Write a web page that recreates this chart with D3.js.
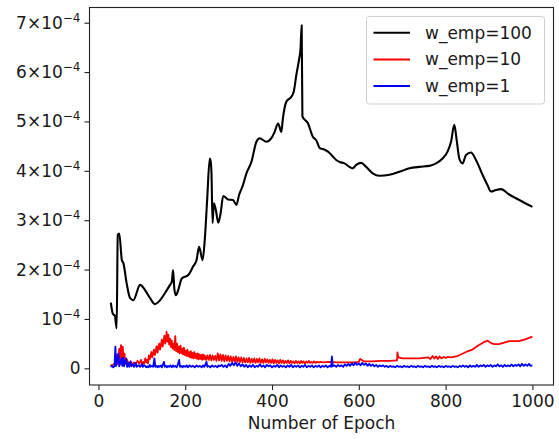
<!DOCTYPE html>
<html>
<head>
<meta charset="utf-8">
<script src="https://cdn.jsdelivr.net/npm/d3@7/dist/d3.min.js"></script>
<style>
  html, body { margin: 0; padding: 0; background: #fff; }
  svg { display: block; }
  text { font-family: "DejaVu Sans", sans-serif; fill: #1a1a1a; }
</style>
</head>
<body>
<svg id="chart" width="559" height="439"></svg>
<script>
// Loss per epoch for three empirical-loss weights, values in units of 1e-4.
const seriesNames = ["w_emp=100", "w_emp=10", "w_emp=1"];
const seriesColors = ["#000000", "#ff0000", "#0000ff"];

const wEmp100 = [[28.5,1.33],[33,1.11],[38,1.06],[42,0.81],[44.5,2.70],[48,2.73],[54,2.19],[57.5,2.13],[65,1.72],[73,1.42],[80.5,1.38],[96,1.69],[107,1.59],[119,1.42],[130,1.30],[142,1.38],[153,1.52],[165,1.69],[169,1.75],[172,1.99],[175,1.60],[178.5,1.48],[184,1.59],[192,1.82],[207,1.89],[218,2.06],[226,2.19],[232,2.46],[240,2.19],[245,2.60],[250.5,3.41],[256.5,4.25],[258.5,4.20],[260.5,3.95],[263,2.94],[266,3.34],[270.5,3.21],[276,2.95],[281.5,3.14],[287.5,3.49],[299,3.42],[310,3.41],[318,3.31],[324,3.51],[333,3.71],[341,3.95],[352.5,4.18],[364,4.59],[371.5,4.66],[387,4.59],[398.5,4.66],[406,4.79],[414,4.96],[421.5,4.79],[425,5.06],[433,5.40],[444.5,5.50],[450,5.60],[456,5.94],[462,6.24],[465.5,6.45],[468.3,6.95],[470,5.10],[483,4.96],[494,4.69],[502,4.62],[510,4.46],[517,4.44],[525,4.41],[529,4.39],[540,4.29],[548,4.22],[556,4.18],[567,4.15],[578.5,4.08],[586,4.05],[594,4.12],[605.5,4.16],[617,4.08],[632,3.95],[647.5,3.90],[670.5,3.92],[693.5,3.98],[716.5,4.05],[739.5,4.08],[762.5,4.10],[778,4.15],[793,4.25],[804.5,4.39],[812.5,4.59],[820,4.93],[825.5,4.62],[831.5,4.25],[839,4.15],[847,4.32],[858.5,4.37],[870,4.22],[885,3.92],[896.5,3.71],[904.5,3.58],[916,3.61],[927.5,3.63],[946.5,3.52],[969.5,3.41],[1000,3.27]];

const wEmp10 = [[28,0.07],[32,0.06],[36,0.09],[40,0.07],[43,0.28],[45,0.08],[48,0.40],[50,0.10],[52,0.47],[54,0.14],[56,0.44],[58,0.12],[60,0.30],[62,0.09],[66,0.17],[70,0.08],[74,0.14],[78,0.07],[82,0.12],[86,0.08],[90,0.15],[94,0.09],[98,0.17],[101,0.08],[103,0.13],[105,0.09],[108,0.20],[110,0.12],[112,0.17],[114,0.10],[116,0.26],[118,0.18],[120,0.24],[122,0.33],[124,0.22],[126,0.30],[128,0.38],[130,0.27],[132,0.35],[134,0.45],[136,0.32],[138,0.42],[140,0.50],[142,0.38],[144,0.47],[146,0.58],[148,0.44],[150,0.55],[152,0.66],[154,0.50],[156,0.62],[157,0.74],[159,0.54],[161,0.68],[163,0.48],[165,0.60],[167,0.43],[169,0.56],[171,0.40],[173,0.50],[175,0.37],[177,0.65],[179,0.35],[181,0.50],[183,0.33],[185,0.44],[187,0.30],[189,0.46],[191,0.31],[193,0.40],[195,0.28],[197,0.42],[199,0.27],[201,0.36],[203,0.25],[205,0.38],[207,0.24],[209,0.33],[211,0.22],[213,0.35],[215,0.21],[217,0.31],[219,0.20],[221,0.33],[223,0.21],[225,0.29],[227,0.19],[229,0.30],[231,0.18],[233,0.28],[235,0.19],[237,0.27],[239,0.17],[241,0.28],[243,0.18],[245,0.26],[248,0.17],[251,0.26],[254,0.17],[257,0.27],[260,0.16],[263,0.26],[266,0.17],[269,0.25],[272,0.15],[275,0.30],[278,0.16],[281,0.28],[284,0.15],[287,0.27],[290,0.14],[293,0.26],[296,0.15],[299,0.25],[302,0.14],[305,0.24],[308,0.13],[311,0.23],[314,0.14],[317,0.24],[320,0.13],[323,0.22],[326,0.13],[329,0.22],[332,0.12],[335,0.21],[338,0.12],[341,0.20],[344,0.12],[347,0.21],[350,0.11],[353,0.19],[356,0.12],[359,0.20],[362,0.11],[365,0.19],[368,0.12],[371,0.20],[374,0.11],[377,0.18],[380,0.11],[383,0.19],[386,0.12],[389,0.18],[392,0.11],[395,0.17],[398,0.11],[401,0.18],[404,0.10],[407,0.17],[410,0.11],[413,0.16],[416,0.10],[419,0.17],[422,0.11],[425,0.16],[428,0.10],[431,0.15],[434,0.11],[437,0.16],[440,0.10],[443,0.15],[446,0.11],[449,0.14],[452,0.10],[455,0.15],[458,0.11],[461,0.14],[464,0.10],[467,0.15],[470,0.11],[473,0.14],[476,0.10],[479,0.14],[482,0.11],[485,0.15],[488,0.11],[491,0.13],[494,0.11],[497,0.14],[500,0.11],[504,0.13],[508,0.12],[512,0.13],[518,0.12],[530,0.13],[550,0.12],[570,0.12],[590,0.12],[600,0.13],[603,0.19],[607,0.17],[612,0.14],[630,0.14],[650,0.15],[670,0.15],[688,0.16],[689,0.32],[691,0.22],[700,0.20],[720,0.20],[740,0.20],[750,0.21],[760,0.22],[765,0.19],[770,0.25],[774,0.20],[778,0.24],[782,0.19],[786,0.24],[790,0.20],[795,0.23],[800,0.21],[805,0.23],[812,0.22],[825,0.24],[840,0.30],[852,0.35],[862,0.38],[875,0.46],[888,0.53],[897,0.56],[905,0.51],[912,0.49],[923,0.49],[935,0.52],[946,0.55],[969,0.55],[985,0.59],[1000,0.64]];

const wEmp1 = [[28,0.03],[31,0.05],[34,0.02],[37,0.04],[39,0.44],[41,0.05],[44,0.18],[46,0.30],[48,0.04],[51,0.12],[53,0.20],[55,0.05],[57,0.21],[59,0.04],[62,0.15],[64,0.20],[66,0.03],[69,0.10],[71,0.03],[74,0.14],[76,0.04],[78,0.07],[80,0.08],[82,0.03],[84,0.06],[86,0.11],[88,0.03],[90,0.05],[93,0.06],[96,0.03],[98,0.05],[100,0.09],[102,0.03],[105,0.06],[108,0.05],[110,0.02],[112,0.04],[115,0.02],[118,0.07],[120,0.03],[123,0.05],[126,0.03],[129,0.20],[131,0.03],[134,0.05],[136,0.02],[138,0.05],[140,0.03],[144,0.06],[146,0.02],[148,0.06],[151,0.13],[153,0.03],[156,0.05],[158,0.02],[160,0.05],[163,0.03],[166,0.06],[169,0.02],[172,0.06],[174,0.03],[178,0.05],[180,0.02],[182,0.05],[186,0.17],[188,0.03],[191,0.05],[194,0.02],[196,0.05],[200,0.03],[203,0.06],[206,0.02],[210,0.06],[214,0.03],[218,0.05],[222,0.02],[226,0.06],[230,0.03],[234,0.05],[238,0.02],[241,0.06],[244,0.03],[249,0.13],[251,0.03],[254,0.05],[258,0.02],[262,0.06],[266,0.03],[270,0.05],[274,0.02],[277,0.06],[280,0.04],[284,0.07],[288,0.03],[292,0.06],[296,0.02],[300,0.09],[304,0.05],[308,0.11],[312,0.06],[316,0.12],[320,0.05],[324,0.10],[328,0.04],[332,0.08],[336,0.03],[340,0.07],[344,0.02],[348,0.06],[352,0.03],[356,0.07],[360,0.02],[364,0.05],[368,0.03],[372,0.08],[376,0.03],[380,0.06],[384,0.02],[388,0.07],[392,0.04],[396,0.06],[400,0.02],[404,0.05],[408,0.03],[412,0.07],[416,0.02],[420,0.06],[424,0.03],[428,0.05],[432,0.02],[436,0.06],[440,0.03],[444,0.07],[448,0.02],[452,0.05],[456,0.03],[460,0.06],[464,0.02],[468,0.05],[472,0.03],[476,0.07],[480,0.02],[484,0.05],[488,0.03],[492,0.06],[496,0.02],[500,0.05],[504,0.03],[508,0.06],[512,0.02],[516,0.05],[520,0.03],[524,0.06],[528,0.02],[532,0.05],[536,0.03],[538,0.24],[540,0.04],[544,0.06],[548,0.03],[552,0.07],[556,0.04],[560,0.06],[564,0.03],[568,0.08],[572,0.05],[576,0.09],[580,0.05],[584,0.10],[588,0.06],[592,0.11],[596,0.07],[600,0.10],[604,0.06],[608,0.11],[612,0.07],[616,0.10],[620,0.05],[624,0.09],[628,0.05],[632,0.08],[636,0.04],[640,0.07],[644,0.03],[648,0.06],[652,0.04],[656,0.06],[660,0.03],[664,0.05],[668,0.02],[672,0.05],[676,0.03],[680,0.04],[684,0.02],[688,0.05],[692,0.03],[696,0.04],[700,0.02],[704,0.05],[708,0.03],[712,0.04],[716,0.02],[720,0.05],[724,0.03],[728,0.04],[732,0.02],[736,0.05],[740,0.03],[744,0.04],[748,0.02],[752,0.05],[756,0.03],[760,0.04],[764,0.02],[768,0.05],[772,0.03],[776,0.04],[780,0.02],[784,0.05],[788,0.03],[792,0.04],[796,0.02],[800,0.05],[804,0.03],[808,0.04],[812,0.02],[816,0.05],[820,0.03],[824,0.04],[828,0.02],[832,0.05],[836,0.03],[840,0.06],[844,0.03],[848,0.05],[852,0.02],[856,0.06],[860,0.03],[864,0.05],[868,0.03],[872,0.07],[876,0.03],[880,0.06],[884,0.04],[888,0.07],[892,0.03],[896,0.06],[900,0.04],[904,0.07],[908,0.03],[912,0.06],[916,0.04],[920,0.08],[924,0.04],[928,0.06],[932,0.03],[936,0.07],[940,0.04],[944,0.06],[948,0.04],[952,0.08],[956,0.04],[960,0.07],[964,0.05],[968,0.08],[972,0.04],[976,0.09],[980,0.05],[984,0.08],[988,0.05],[992,0.09],[996,0.05],[1000,0.06]];

const xTicks = [0, 200, 400, 600, 800, 1000];
const yTicks = [0, 1, 2, 3, 4, 5, 6, 7];          // multiples of 1e-4
const xLabel = "Number of Epoch";

const allSeries = [wEmp100, wEmp10, wEmp1];

const svg = d3.select("#chart");
const plot = { left: 89.5, right: 553.5, top: 7.5, bottom: 385 };

const x = d3.scaleLinear().domain([-20.6, 1048.6]).range([plot.left, plot.right]);
const y = d3.scaleLinear().domain([-0.338, 7.308]).range([plot.bottom, plot.top]);

const FONT = 17;

svg.append("clipPath").attr("id", "clip").append("rect")
  .attr("x", plot.left).attr("y", plot.top)
  .attr("width", plot.right - plot.left).attr("height", plot.bottom - plot.top);

// series lines: the heavy-weight curve is smooth, the noisy ones are drawn point to point
const smoothLine = d3.line().curve(d3.curveMonotoneX).x(d => x(d[0])).y(d => y(d[1]));
const rawLine = d3.line().x(d => x(d[0])).y(d => y(d[1]));
const lines = svg.append("g").attr("clip-path", "url(#clip)");

allSeries.forEach((s, i) => {
  lines.append("path")
    .datum(s)
    .attr("d", i === 0 ? smoothLine : rawLine)
    .attr("fill", "none")
    .attr("stroke", seriesColors[i])
    .attr("stroke-width", i === 0 ? 2.1 : 1.8)
    .attr("stroke-linejoin", "round");
});

// x axis
const xAxis = d3.axisBottom(x).tickValues(xTicks).tickSize(5).tickPadding(5)
  .tickFormat(d3.format("d"));
const gx = svg.append("g").attr("transform", `translate(0,${plot.bottom})`).call(xAxis);
gx.select(".domain").remove();
gx.selectAll(".tick line").attr("stroke", "#222").attr("stroke-width", 1.1);
gx.selectAll(".tick text").attr("font-size", FONT).attr("fill", "#1a1a1a")
  .attr("font-family", "DejaVu Sans, sans-serif");

// y axis with scientific labels
const yAxis = d3.axisLeft(y).tickValues(yTicks).tickSize(5).tickFormat("");
const gy = svg.append("g").attr("transform", `translate(${plot.left},0)`).call(yAxis);
gy.select(".domain").remove();
gy.selectAll(".tick line").attr("stroke", "#222").attr("stroke-width", 1.1);

yTicks.forEach(v => {
  const t = svg.append("text")
    .attr("x", plot.left - 9)
    .attr("y", y(v) + 6)
    .attr("text-anchor", "end")
    .attr("font-size", FONT);
  if (v === 0) {
    t.text("0");
  } else {
    const base = v === 1 ? "10" : `${v}\u00d710`;
    t.append("tspan").text(base);
    t.append("tspan").attr("dy", -7).attr("font-size", 12).text("\u22124");
  }
});

// frame
svg.append("rect")
  .attr("x", plot.left).attr("y", plot.top)
  .attr("width", plot.right - plot.left).attr("height", plot.bottom - plot.top)
  .attr("fill", "none").attr("stroke", "#222").attr("stroke-width", 1.1);

// axis title
svg.append("text")
  .attr("x", (plot.left + plot.right) / 2)
  .attr("y", 429)
  .attr("text-anchor", "middle")
  .attr("font-size", FONT)
  .text(xLabel);

// legend
const lg = svg.append("g");
lg.append("rect")
  .attr("x", 366.5).attr("y", 16.5).attr("width", 178).attr("height", 87.5)
  .attr("rx", 3).attr("fill", "#fff").attr("fill-opacity", 0.85)
  .attr("stroke", "#d0d0d0").attr("stroke-width", 1);
seriesNames.forEach((name, i) => {
  const cy = 32.7 + i * 26.7;
  lg.append("line")
    .attr("x1", 373.5).attr("x2", 410).attr("y1", cy).attr("y2", cy)
    .attr("stroke", seriesColors[i]).attr("stroke-width", 2);
  lg.append("text")
    .attr("x", 425).attr("y", cy + 6)
    .attr("font-size", FONT)
    .text(name);
});
</script>
</body>
</html>
